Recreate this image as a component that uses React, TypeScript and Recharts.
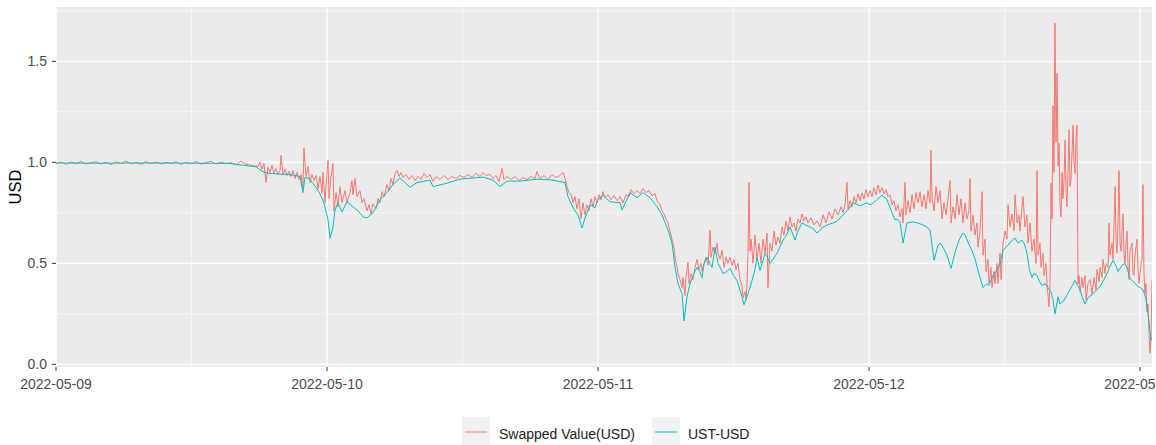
import React from 'react';
import { LineChart, Line, XAxis, YAxis, CartesianGrid } from 'recharts';

// time in hours since 2022-05-09 00:00, value in USD
const swapSeries: [number, number][] = [
  [0, 0.993], [0.44, 1.002], [0.89, 0.99], [1.33, 1.001], [1.77, 0.994], [2.21, 1.004], [2.66, 0.991], [3.1, 0.999],
  [3.54, 1.003], [3.99, 0.992], [4.43, 1.001], [4.87, 0.989], [5.31, 1.003], [5.76, 0.994], [6.2, 1.006], [6.64, 0.992],
  [7.08, 1.0], [7.53, 0.99], [7.97, 1.004], [8.41, 0.993], [8.86, 1.002], [9.3, 0.991], [9.74, 1.0], [10.18, 0.994],
  [10.63, 1.003], [11.07, 0.99], [11.51, 1.001], [11.96, 0.993], [12.4, 1.004], [12.84, 0.991], [13.28, 0.999], [13.73, 1.005],
  [14.17, 0.992], [14.61, 1.001], [15.06, 0.994], [15.5, 0.998], [15.94, 0.988], [16.38, 1.006], [16.83, 0.99], [17.27, 0.985],
  [17.89, 0.98], [18.07, 1.0], [18.24, 0.965], [18.42, 0.995], [18.6, 0.9], [18.77, 0.975], [18.95, 0.95], [19.13, 0.985],
  [19.31, 0.945], [19.48, 0.97], [19.66, 0.94], [19.84, 0.96], [19.93, 1.035], [20.1, 0.94], [20.28, 0.965], [20.46, 0.935],
  [20.63, 0.955], [20.81, 0.93], [20.99, 0.96], [21.17, 0.92], [21.34, 0.95], [21.52, 0.915], [21.7, 0.94], [21.87, 0.87],
  [21.96, 1.07], [22.14, 0.93], [22.32, 0.98], [22.49, 0.9], [22.67, 0.94], [22.85, 0.91], [23.03, 0.935], [23.2, 0.87],
  [23.38, 0.93], [23.56, 0.85], [23.65, 0.95], [23.82, 0.8], [23.91, 0.88], [24.09, 1.01], [24.18, 0.82], [24.35, 0.93],
  [24.53, 0.995], [24.62, 0.76], [24.8, 0.85], [24.97, 0.78], [25.15, 0.88], [25.33, 0.8], [25.59, 0.86], [25.77, 0.8],
  [26.04, 0.85], [26.21, 0.91], [26.3, 0.84], [26.48, 0.92], [26.66, 0.83], [26.92, 0.86], [27.1, 0.8], [27.28, 0.82],
  [27.54, 0.76], [27.72, 0.79], [27.9, 0.745], [28.07, 0.795], [28.34, 0.77], [28.52, 0.82], [28.69, 0.8], [28.87, 0.855],
  [29.05, 0.83], [29.31, 0.89], [29.49, 0.86], [29.67, 0.92], [29.84, 0.89], [30.02, 0.945], [30.2, 0.96], [30.38, 0.93],
  [30.55, 0.95], [30.73, 0.925], [31.0, 0.94], [31.26, 0.915], [31.53, 0.935], [31.79, 0.91], [32.06, 0.93], [32.32, 0.915],
  [32.59, 0.945], [32.86, 0.925], [33.12, 0.94], [33.39, 0.905], [33.65, 0.93], [34.01, 0.915], [34.36, 0.935], [34.72, 0.915],
  [35.07, 0.93], [35.42, 0.92], [35.78, 0.935], [36.13, 0.925], [36.49, 0.94], [36.84, 0.925], [37.2, 0.945], [37.55, 0.93],
  [37.82, 0.95], [38.08, 0.935], [38.44, 0.94], [38.7, 0.92], [38.97, 0.935], [39.23, 0.905], [39.5, 0.97], [39.67, 0.915],
  [39.94, 0.93], [40.29, 0.915], [40.65, 0.93], [41.0, 0.91], [41.36, 0.925], [41.71, 0.915], [42.07, 0.93], [42.42, 0.92],
  [42.6, 0.955], [42.86, 0.92], [43.22, 0.935], [43.57, 0.915], [43.93, 0.94], [44.28, 0.925], [44.63, 0.935], [44.9, 0.95],
  [45.08, 0.92], [45.25, 0.88], [45.43, 0.85], [45.61, 0.84], [45.79, 0.8], [45.96, 0.83], [46.14, 0.77], [46.32, 0.82],
  [46.49, 0.72], [46.67, 0.8], [46.85, 0.74], [47.03, 0.79], [47.2, 0.76], [47.38, 0.82], [47.56, 0.78], [47.73, 0.83],
  [47.91, 0.8], [48.09, 0.84], [48.27, 0.815], [48.44, 0.855], [48.62, 0.825], [48.89, 0.84], [49.15, 0.815], [49.42, 0.835],
  [49.68, 0.81], [49.95, 0.83], [50.21, 0.8], [50.48, 0.84], [50.75, 0.83], [50.92, 0.865], [51.19, 0.845], [51.45, 0.86],
  [51.72, 0.845], [51.98, 0.87], [52.25, 0.85], [52.52, 0.86], [52.78, 0.835], [53.05, 0.845], [53.22, 0.81], [53.49, 0.79],
  [53.67, 0.76], [53.84, 0.745], [54.02, 0.72], [54.2, 0.7], [54.38, 0.66], [54.55, 0.62], [54.73, 0.58], [54.82, 0.53],
  [55.0, 0.48], [55.08, 0.45], [55.26, 0.42], [55.44, 0.38], [55.53, 0.43], [55.7, 0.34], [55.79, 0.43], [55.97, 0.505],
  [56.06, 0.4], [56.24, 0.45], [56.41, 0.42], [56.59, 0.48], [56.77, 0.52], [56.94, 0.47], [57.12, 0.5], [57.21, 0.46],
  [57.39, 0.5], [57.56, 0.53], [57.74, 0.49], [57.92, 0.665], [58.01, 0.53], [58.18, 0.58], [58.36, 0.55], [58.54, 0.6],
  [58.63, 0.55], [58.8, 0.52], [58.98, 0.565], [59.16, 0.48], [59.34, 0.53], [59.51, 0.5], [59.69, 0.53], [59.87, 0.49],
  [60.04, 0.52], [60.22, 0.47], [60.4, 0.5], [60.58, 0.42], [60.75, 0.39], [60.84, 0.33], [61.02, 0.36], [61.11, 0.32],
  [61.19, 0.4], [61.28, 0.54], [61.37, 0.9], [61.46, 0.56], [61.55, 0.62], [61.73, 0.5], [61.9, 0.64], [62.08, 0.52],
  [62.26, 0.6], [62.43, 0.5], [62.61, 0.62], [62.79, 0.55], [62.97, 0.65], [63.05, 0.38], [63.23, 0.6], [63.41, 0.56],
  [63.59, 0.66], [63.76, 0.59], [63.94, 0.63], [64.12, 0.6], [64.29, 0.68], [64.47, 0.64], [64.65, 0.71], [64.83, 0.66],
  [65.0, 0.73], [65.18, 0.68], [65.36, 0.7], [65.53, 0.66], [65.71, 0.72], [65.89, 0.7], [66.07, 0.745], [66.24, 0.71],
  [66.42, 0.73], [66.6, 0.7], [66.86, 0.725], [67.13, 0.69], [67.39, 0.71], [67.66, 0.68], [67.93, 0.74], [68.19, 0.7],
  [68.46, 0.755], [68.72, 0.72], [68.99, 0.77], [69.25, 0.74], [69.52, 0.78], [69.7, 0.75], [69.87, 0.79], [70.05, 0.9],
  [70.14, 0.77], [70.32, 0.81], [70.49, 0.78], [70.67, 0.83], [70.85, 0.8], [71.03, 0.845], [71.2, 0.81], [71.38, 0.85],
  [71.56, 0.82], [71.73, 0.865], [71.91, 0.83], [72.09, 0.86], [72.26, 0.83], [72.44, 0.875], [72.62, 0.84], [72.8, 0.888],
  [72.97, 0.85], [73.15, 0.875], [73.33, 0.845], [73.5, 0.865], [73.68, 0.83], [73.86, 0.84], [74.04, 0.79], [74.21, 0.81],
  [74.39, 0.76], [74.57, 0.79], [74.74, 0.73], [74.92, 0.77], [75.01, 0.7], [75.19, 0.9], [75.28, 0.74], [75.45, 0.81],
  [75.63, 0.75], [75.81, 0.84], [75.98, 0.77], [76.16, 0.85], [76.34, 0.8], [76.52, 0.855], [76.69, 0.78], [76.87, 0.84],
  [77.05, 0.77], [77.22, 0.86], [77.4, 0.8], [77.49, 1.06], [77.58, 0.82], [77.76, 0.76], [77.93, 0.88], [78.11, 0.8],
  [78.29, 0.86], [78.46, 0.72], [78.64, 0.8], [78.82, 0.74], [79.0, 0.82], [79.17, 0.91], [79.26, 0.7], [79.44, 0.78],
  [79.62, 0.72], [79.79, 0.84], [79.97, 0.74], [80.15, 0.82], [80.32, 0.7], [80.5, 0.8], [80.68, 0.72], [80.85, 0.76],
  [80.94, 0.92], [81.03, 0.66], [81.21, 0.74], [81.39, 0.64], [81.56, 0.7], [81.65, 0.58], [81.83, 0.66], [82.01, 0.855],
  [82.09, 0.54], [82.27, 0.62], [82.36, 0.46], [82.54, 0.52], [82.63, 0.4], [82.8, 0.48], [82.89, 0.38], [83.07, 0.46],
  [83.16, 0.4], [83.33, 0.5], [83.42, 0.4], [83.6, 0.55], [83.69, 0.42], [83.87, 0.6], [84.04, 0.66], [84.22, 0.62],
  [84.31, 0.79], [84.49, 0.68], [84.66, 0.745], [84.84, 0.66], [84.93, 0.84], [85.11, 0.7], [85.28, 0.74], [85.37, 0.66],
  [85.55, 0.78], [85.64, 0.83], [85.81, 0.68], [85.99, 0.74], [86.08, 0.6], [86.26, 0.7], [86.43, 0.56], [86.61, 0.62],
  [86.79, 0.5], [86.88, 0.96], [86.97, 0.54], [87.14, 0.6], [87.23, 0.48], [87.41, 0.55], [87.5, 0.44], [87.67, 0.5],
  [87.76, 0.4], [87.94, 0.285], [88.03, 0.4], [88.12, 0.897], [88.21, 0.72], [88.29, 1.28], [88.38, 0.95], [88.47, 1.69],
  [88.56, 1.1], [88.65, 1.44], [88.74, 0.98], [88.83, 1.095], [88.91, 0.8], [89.0, 0.73], [89.09, 0.95], [89.18, 0.82],
  [89.27, 0.91], [89.36, 1.11], [89.45, 0.85], [89.53, 0.78], [89.62, 0.95], [89.71, 1.16], [89.8, 0.88], [89.89, 0.92],
  [89.98, 1.05], [90.07, 1.185], [90.15, 1.0], [90.24, 0.945], [90.33, 1.12], [90.42, 1.185], [90.51, 0.4], [90.6, 0.44],
  [90.69, 0.36], [90.86, 0.43], [90.95, 0.38], [91.13, 0.44], [91.22, 0.32], [91.39, 0.4], [91.57, 0.42], [91.75, 0.35],
  [91.93, 0.43], [92.1, 0.37], [92.19, 0.47], [92.37, 0.41], [92.46, 0.48], [92.63, 0.43], [92.72, 0.52], [92.9, 0.45],
  [92.99, 0.5], [93.17, 0.48], [93.25, 0.7], [93.34, 0.54], [93.52, 0.6], [93.61, 0.52], [93.79, 0.88], [93.87, 0.62],
  [93.96, 0.55], [94.05, 0.7], [94.14, 0.96], [94.23, 0.6], [94.32, 0.56], [94.41, 0.66], [94.5, 0.745], [94.58, 0.55],
  [94.67, 0.5], [94.76, 0.6], [94.85, 0.66], [94.94, 0.48], [95.03, 0.42], [95.11, 0.56], [95.29, 0.6], [95.38, 0.45],
  [95.47, 0.44], [95.56, 0.54], [95.73, 0.62], [95.82, 0.48], [95.91, 0.4], [96.09, 0.5], [96.17, 0.52], [96.26, 0.89],
  [96.35, 0.45], [96.44, 0.35], [96.53, 0.4], [96.61, 0.26], [96.7, 0.3], [96.79, 0.16], [96.88, 0.055], [96.97, 0.12],
  [97.06, 0.42],
];

const ustSeries: [number, number][] = [
  [0, 0.997], [3.9, 0.996], [8.32, 0.997], [12.75, 0.996], [15.32, 0.995], [15.94, 0.99], [17.71, 0.978], [18.33, 0.953],
  [18.95, 0.945], [19.84, 0.942], [20.99, 0.937], [21.61, 0.93], [21.87, 0.85], [22.05, 0.925], [22.41, 0.92], [22.85, 0.89],
  [23.29, 0.855], [23.73, 0.8], [24.09, 0.715], [24.27, 0.625], [24.53, 0.68], [24.71, 0.765], [24.97, 0.8], [25.33, 0.755],
  [25.77, 0.805], [26.3, 0.78], [26.75, 0.76], [27.19, 0.73], [27.54, 0.725], [28.07, 0.75], [28.69, 0.815], [29.31, 0.85],
  [29.84, 0.89], [30.46, 0.922], [30.91, 0.9], [31.35, 0.877], [31.97, 0.9], [33.12, 0.912], [33.39, 0.88], [34.63, 0.897],
  [35.78, 0.917], [37.82, 0.927], [38.7, 0.912], [39.32, 0.88], [39.94, 0.907], [41.09, 0.907], [42.6, 0.917], [44.01, 0.912],
  [45.08, 0.9], [45.34, 0.83], [45.79, 0.775], [46.23, 0.74], [46.58, 0.675], [46.85, 0.725], [47.29, 0.79], [47.73, 0.775],
  [48.0, 0.815], [48.44, 0.838], [49.06, 0.805], [49.95, 0.8], [50.13, 0.765], [50.83, 0.85], [51.45, 0.825], [51.99, 0.85],
  [52.61, 0.825], [53.23, 0.78], [53.67, 0.74], [54.2, 0.665], [54.55, 0.6], [54.82, 0.48], [55.08, 0.4], [55.44, 0.35],
  [55.62, 0.215], [55.88, 0.335], [56.15, 0.4], [56.5, 0.45], [56.77, 0.48], [57.0, 0.46], [57.21, 0.43], [57.4, 0.5],
  [57.65, 0.53], [58.1, 0.48], [58.36, 0.58], [58.63, 0.5], [58.9, 0.47], [59.07, 0.45], [59.4, 0.46], [59.69, 0.475],
  [60.0, 0.44], [60.31, 0.415], [60.75, 0.335], [60.93, 0.295], [61.28, 0.35], [61.64, 0.415], [61.9, 0.47], [62.08, 0.53],
  [62.35, 0.465], [62.79, 0.55], [63.0, 0.53], [63.23, 0.5], [63.5, 0.52], [63.85, 0.55], [64.1, 0.58], [64.38, 0.615],
  [64.7, 0.64], [65.0, 0.68], [65.45, 0.615], [65.7, 0.66], [66.07, 0.7], [66.4, 0.69], [66.77, 0.68], [67.1, 0.67],
  [67.39, 0.65], [67.6, 0.66], [67.93, 0.68], [68.3, 0.69], [68.81, 0.7], [69.2, 0.71], [69.7, 0.74], [70.14, 0.765],
  [70.58, 0.8], [71.2, 0.785], [71.82, 0.8], [72.09, 0.79], [72.4, 0.8], [72.71, 0.815], [73.15, 0.838], [73.59, 0.815],
  [74.04, 0.75], [74.3, 0.715], [74.5, 0.72], [74.75, 0.705], [75.01, 0.6], [75.36, 0.7], [75.9, 0.705], [76.3, 0.7],
  [76.78, 0.69], [77.1, 0.68], [77.4, 0.665], [77.76, 0.515], [78.11, 0.59], [78.3, 0.6], [78.55, 0.58], [78.91, 0.54],
  [79.26, 0.475], [79.62, 0.555], [79.88, 0.6], [80.1, 0.63], [80.32, 0.65], [80.5, 0.64], [80.77, 0.605], [81.21, 0.55],
  [81.4, 0.52], [81.65, 0.465], [82.09, 0.38], [82.45, 0.4], [82.6, 0.39], [82.89, 0.43], [83.1, 0.45], [83.33, 0.465],
  [83.6, 0.5], [83.87, 0.565], [84.31, 0.59], [84.6, 0.61], [84.93, 0.625], [85.2, 0.6], [85.55, 0.615], [85.8, 0.59],
  [85.99, 0.55], [86.2, 0.47], [86.43, 0.43], [86.6, 0.45], [86.88, 0.44], [87.1, 0.41], [87.32, 0.39], [87.6, 0.4],
  [87.85, 0.38], [88.1, 0.36], [88.29, 0.32], [88.47, 0.25], [88.74, 0.335], [88.9, 0.3], [89.18, 0.31], [89.5, 0.34],
  [89.8, 0.37], [90.0, 0.39], [90.24, 0.415], [90.5, 0.39], [90.69, 0.37], [90.9, 0.33], [91.13, 0.3], [91.4, 0.33],
  [91.75, 0.345], [92.0, 0.36], [92.46, 0.385], [92.8, 0.42], [93.08, 0.45], [93.3, 0.48], [93.61, 0.515], [93.85, 0.49],
  [94.05, 0.46], [94.4, 0.49], [94.67, 0.5], [94.9, 0.47], [95.11, 0.425], [95.4, 0.41], [95.73, 0.39], [96.0, 0.38],
  [96.26, 0.37], [96.5, 0.33], [96.71, 0.25], [96.97, 0.12], [97.06, 0.13],
];

const xTickHours = [0, 24, 48, 72, 96];
const xTickLabels = ['2022-05-09', '2022-05-10', '2022-05-11', '2022-05-12', '2022-05-13'];
const xMinorHours = [12, 36, 60, 84];
const yTicks = [0, 0.5, 1.0, 1.5];
const yMinor = [0.25, 0.75, 1.25, 1.75];
const seriesNames = ['Swapped Value(USD)', 'UST-USD'];
const seriesColors = ['#F8766D', '#00BFC4'];

const FONT = '"Liberation Sans", Arial, Helvetica, sans-serif';

export default function App() {
  const swapData = swapSeries.map(([h, v]) => ({ h, v }));
  const ustData = ustSeries.map(([h, v]) => ({ h, v }));
  return (
    <div style={{ position: 'absolute', left: 0, top: 0, width: 1156, height: 445, background: '#fff', fontFamily: FONT, overflow: 'hidden' }}>
      <LineChart width={1156} height={445} margin={{ top: 7, right: 4, bottom: 0, left: 0 }} style={{ fontFamily: FONT }}>
        <CartesianGrid fill="#EBEBEB" fillOpacity={1} stroke="#FFFFFF" strokeWidth={0.6} horizontalValues={yMinor} verticalValues={xMinorHours} />
        <CartesianGrid stroke="#FFFFFF" strokeWidth={1.3} horizontalValues={yTicks} verticalValues={xTickHours} />
        <XAxis
          type="number"
          dataKey="h"
          domain={[0, 97.06]}
          allowDataOverflow
          ticks={xTickHours}
          interval={0}
          tickFormatter={(v: number) => xTickLabels[xTickHours.indexOf(v)] ?? ''}
          height={78}
          axisLine={false}
          tickLine={{ stroke: '#333333' }}
          tickSize={4}
          tickMargin={8}
          tick={{ fill: '#4D4D4D', fontSize: 14, fontFamily: FONT }}
        />
        <YAxis
          type="number"
          domain={[-0.013, 1.769]}
          allowDataOverflow
          ticks={yTicks}
          interval={0}
          tickFormatter={(v: number) => v.toFixed(1)}
          width={56}
          axisLine={false}
          tickLine={{ stroke: '#333333' }}
          tickSize={4}
          tickMargin={5}
          tick={{ fill: '#4D4D4D', fontSize: 14, fontFamily: FONT }}
          label={{
            content: () => (
              <text x={20.5} y={187} transform="rotate(-90 20.5 187)" textAnchor="middle" fill="#000" fontSize={16.5} fontFamily={FONT}>USD</text>
            ),
          }}
        />
        <Line data={swapData} dataKey="v" type="linear" stroke={seriesColors[0]} strokeWidth={1} dot={false} activeDot={false} isAnimationActive={false} />
        <Line data={ustData} dataKey="v" type="linear" stroke={seriesColors[1]} strokeWidth={1} dot={false} activeDot={false} isAnimationActive={false} />
      </LineChart>
      <svg width={1156} height={445} style={{ position: 'absolute', left: 0, top: 0, pointerEvents: 'none' }}>
        <rect x={462} y={417} width={28} height={30} fill="#F2F2F2" />
        <line x1={465} x2={487} y1={432} y2={432} stroke={seriesColors[0]} strokeWidth={1} />
        <text x={499} y={439} fontSize={14} fill="#222" fontFamily={FONT}>{seriesNames[0]}</text>
        <rect x={652} y={417} width={28} height={30} fill="#F2F2F2" />
        <line x1={655} x2={677} y1={432} y2={432} stroke={seriesColors[1]} strokeWidth={1} />
        <text x={688} y={439} fontSize={14} fill="#222" fontFamily={FONT}>{seriesNames[1]}</text>
      </svg>
    </div>
  );
}
